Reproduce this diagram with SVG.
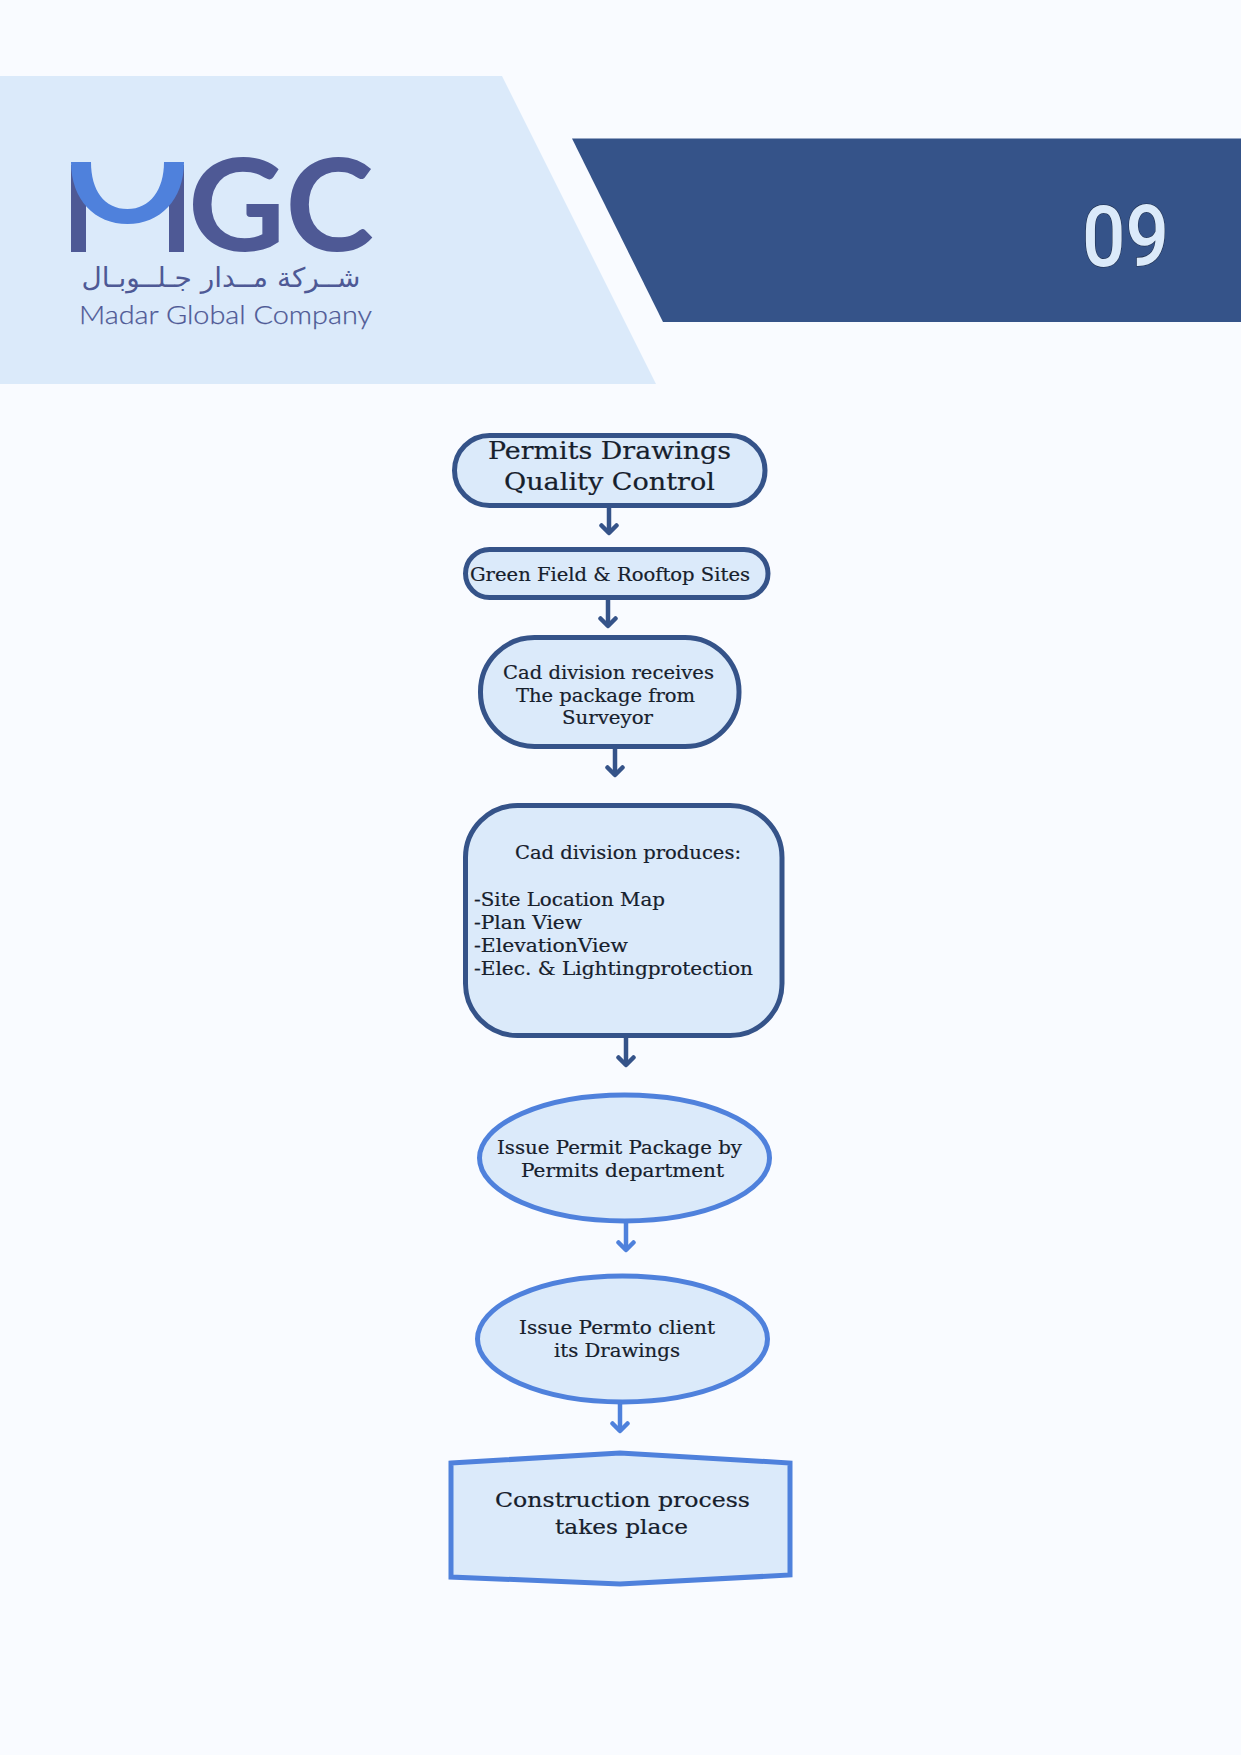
<svg xmlns="http://www.w3.org/2000/svg" width="1241" height="1755" viewBox="0 0 1241 1755">
<style>
.n{fill:#dbeafa;stroke-width:5}
.d{stroke:#355389}
.b{stroke:#4f81dc}
.t{font-family:"DejaVu Serif","Liberation Serif",serif;fill:#16202c;stroke:#16202c;stroke-width:0.2}
.s{font-size:18.5px}
.m{font-size:23.5px}
.l{font-size:21px}
.c{fill:none;stroke-width:4.5}
</style>
<defs>
<marker id="ad" markerUnits="userSpaceOnUse" markerWidth="20" markerHeight="16" refX="10" refY="13" orient="0" viewBox="0 0 20 16"><path d="M2.5 5.5L10 13L17.5 5.5" fill="none" stroke="#355389" stroke-width="4.500" stroke-linecap="round" stroke-linejoin="round"/></marker>
<marker id="ab" markerUnits="userSpaceOnUse" markerWidth="20" markerHeight="16" refX="10" refY="13" orient="0" viewBox="0 0 20 16"><path d="M2.5 5.5L10 13L17.5 5.5" fill="none" stroke="#4f81dc" stroke-width="4.500" stroke-linecap="round" stroke-linejoin="round"/></marker>
</defs>
<rect width="1241" height="1755" fill="#f9fbff"/>
<g id="header">
<polygon points="0,76 502,76 656,384 0,384" fill="#dbeafa"/>
<polygon points="572,138.500 1241,138.500 1241,322 663,322" fill="#355389"/>
<text x="1082" y="266" font-family="Roboto,sans-serif" font-size="86" font-weight="500" fill="#dbeafa" stroke="#1d2d4a" stroke-width="1.200" paint-order="stroke" textLength="87" lengthAdjust="spacingAndGlyphs">09</text>
</g>
<g id="logo">
<rect x="71" y="165" width="15" height="87" fill="#4e5995"/>
<rect x="169" y="165" width="15" height="87" fill="#4e5995"/>
<path d="M71 162C71 200 95 224 127.500 224C160 224 184 200 184 162L164 162C164 190 150 209 127.500 209C104 209 91 190 91 162Z" fill="#4f81dc"/>
<text x="188" y="251" font-family="Lato,sans-serif" font-size="128" font-weight="700" fill="#4e5995" textLength="186" lengthAdjust="spacingAndGlyphs">GC</text>
<text x="221" y="287" text-anchor="middle" font-family="'DejaVu Sans',sans-serif" font-size="27" fill="#4e5995" direction="rtl" textLength="279" lengthAdjust="spacingAndGlyphs">شــركة مــدار جـلــوبـال</text>
<text x="79" y="324" font-family="Lato,sans-serif" font-weight="300" font-size="26" fill="#4e5995" stroke="#4e5995" stroke-width="0.25" textLength="293" lengthAdjust="spacingAndGlyphs">Madar Global Company</text>
</g>
<g id="connectors" class="c">
<path class="d" marker-end="url(#ad)" d="M609 508V533"/>
<path class="d" marker-end="url(#ad)" d="M608 600V626"/>
<path class="d" marker-end="url(#ad)" d="M615 749V775"/>
<path class="d" marker-end="url(#ad)" d="M626 1038V1065"/>
<path class="b" marker-end="url(#ab)" d="M626 1223V1250"/>
<path class="b" marker-end="url(#ab)" d="M620 1404V1431"/>
</g>
<g id="node1">
<rect class="n d" x="454.500" y="435.500" width="310.500" height="70" rx="35"/>
<text class="t m" x="488" y="459" textLength="243" lengthAdjust="spacingAndGlyphs">Permits Drawings</text>
<text class="t m" x="504" y="490" textLength="211" lengthAdjust="spacingAndGlyphs">Quality Control</text>
</g>
<g id="node2">
<rect class="n d" x="465.500" y="549.500" width="302.500" height="48" rx="24"/>
<text class="t s" x="470" y="581" textLength="280" lengthAdjust="spacingAndGlyphs">Green Field &amp; Rooftop Sites</text>
</g>
<g id="node3">
<rect class="n d" x="480.500" y="637.500" width="258.500" height="109" rx="54"/>
<text class="t s" x="503" y="679" textLength="211" lengthAdjust="spacingAndGlyphs">Cad division receives</text>
<text class="t s" x="516" y="702" textLength="179" lengthAdjust="spacingAndGlyphs">The package from</text>
<text class="t s" x="562" y="724" textLength="91" lengthAdjust="spacingAndGlyphs">Surveyor</text>
</g>
<g id="node4">
<rect class="n d" x="465.500" y="805.500" width="316.500" height="230" rx="52"/>
<text class="t s" x="515" y="859" textLength="226" lengthAdjust="spacingAndGlyphs">Cad division produces:</text>
<text class="t s" x="474" y="906" textLength="191" lengthAdjust="spacingAndGlyphs">-Site Location Map</text>
<text class="t s" x="474" y="929" textLength="108" lengthAdjust="spacingAndGlyphs">-Plan View</text>
<text class="t s" x="474" y="952" textLength="154" lengthAdjust="spacingAndGlyphs">-ElevationView</text>
<text class="t s" x="474" y="975" textLength="279" lengthAdjust="spacingAndGlyphs">-Elec. &amp; Lightingprotection</text>
</g>
<g id="node5">
<ellipse class="n b" cx="624.500" cy="1158" rx="145" ry="63"/>
<text class="t s" x="497" y="1154" textLength="245" lengthAdjust="spacingAndGlyphs">Issue Permit Package by</text>
<text class="t s" x="521" y="1177" textLength="203" lengthAdjust="spacingAndGlyphs">Permits department</text>
</g>
<g id="node6">
<ellipse class="n b" cx="622.500" cy="1339" rx="145" ry="63"/>
<text class="t s" x="519" y="1334" textLength="196" lengthAdjust="spacingAndGlyphs">Issue Permto client</text>
<text class="t s" x="554" y="1357" textLength="126" lengthAdjust="spacingAndGlyphs">its Drawings</text>
</g>
<g id="node7">
<polygon class="n b" points="451,1463 620,1453 790,1463 790,1575 620,1584 451,1577"/>
<text class="t l" x="495" y="1507" textLength="255" lengthAdjust="spacingAndGlyphs">Construction process</text>
<text class="t l" x="555" y="1534" textLength="133" lengthAdjust="spacingAndGlyphs">takes place</text>
</g>
</svg>
